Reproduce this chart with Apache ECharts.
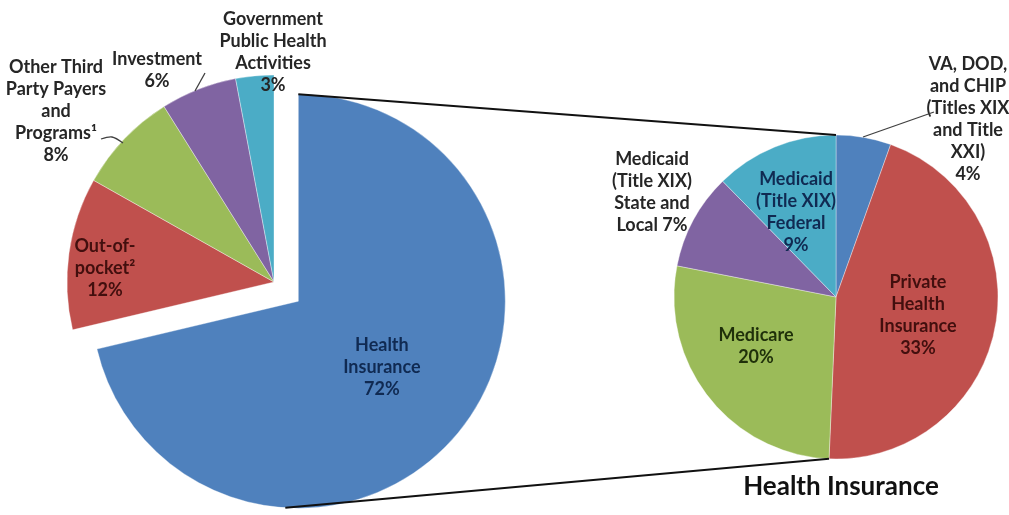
<!DOCTYPE html>
<html>
<head>
<meta charset="utf-8">
<script src="https://cdn.jsdelivr.net/npm/echarts@6/dist/echarts.min.js"></script>
<style>
  html, body { margin: 0; padding: 0; background: #fff; }
  #chart { width: 1009px; height: 515px; }
</style>
</head>
<body>
<div id="chart"></div>
<script>
// national health spending by source (left pie)
var spendNames = ['Health\nInsurance', 'Out-of-\npocket²', 'Other Third\nParty Payers\nand\nPrograms¹', 'Investment', 'Government\nPublic Health\nActivities'];
var spendShares = [72, 12, 8, 6, 3];

// breakdown of health insurance (right pie)
var insNames = ['VA, DOD,\nand CHIP\n(Titles XIX\nand Title\nXXI)', 'Private\nHealth\nInsurance', 'Medicare', 'Medicaid\n(Title XIX)\nState and\nLocal', 'Medicaid\n(Title XIX)\nFederal'];
var insShares = [4, 33, 20, 7, 9];

var sliceColors = ['#4F81BD', '#C0504D', '#9BBB59', '#8064A2', '#4BACC6'];
var leftText = ['#102a52', '#420f0e', '#262626', '#262626', '#262626'];
var rightText = ['#262626', '#420f0e', '#1f300a', '#262626', '#102a52'];

// layout
var FONT = 'Lato';
var leftC = [274, 282], leftR = 207, explode = 31;
var rightC = [836, 297], rightR = 162;
var leftLabelAt = [[390, 365], [105, 268], [56, 111], [157, 70], [273, 52]];
var rightLabelAt = [[968, 119], [918, 315], [756, 346], [652, 192], [796, 212]];
// leader lines, drawn by hand since the labels are placed by hand
var leaders = [
  [[101, 139], [112, 137], [123, 143]],
  [[195, 91], [205, 73]],
  [[863, 137], [934, 112]]
];

function sum(a) { return a.reduce(function (s, v) { return s + v; }, 0); }

// where the exploded slice ends up, for the connector lines
var mid = spendShares[0] / sum(spendShares) * Math.PI; // half of the slice angle
var hiC = [leftC[0] + explode * Math.sin(mid), leftC[1] - explode * Math.cos(mid)];
var cut = (insShares[0] + insShares[1]) / sum(insShares) * 2 * Math.PI;
var botA = Math.PI * 1.02;

function pieData(names, vals, colors, txt) {
  return names.map(function (n, i) {
    return {
      name: n, value: vals[i],
      itemStyle: { color: colors[i] },
      label: { color: txt[i] }
    };
  });
}

var leftData = pieData(spendNames, spendShares, sliceColors, leftText);
leftData[0].selected = true;
var rightData = pieData(insNames, insShares, sliceColors, rightText);
rightData[3].label.formatter = '{b} {c}%';

function layoutFor(at) {
  return function (p) {
    var a = at[p.dataIndex];
    return { x: a[0], y: a[1], align: 'center', verticalAlign: 'middle' };
  };
}

var labelBase = {
  show: true, position: 'inside', formatter: '{b}\n{c}%',
  fontFamily: FONT, fontWeight: 'bold', fontSize: 18, lineHeight: 22
};

var graphics = [
  {
    type: 'line', z: 10,
    shape: { x1: hiC[0], y1: hiC[1] - leftR, x2: rightC[0], y2: rightC[1] - rightR },
    style: { stroke: '#111', lineWidth: 2 }
  },
  {
    type: 'line', z: 10,
    shape: {
      x1: hiC[0] + leftR * Math.sin(botA), y1: hiC[1] - leftR * Math.cos(botA),
      x2: rightC[0] + rightR * Math.sin(cut), y2: rightC[1] - rightR * Math.cos(cut)
    },
    style: { stroke: '#111', lineWidth: 2 }
  }
];
leaders.forEach(function (pts) {
  graphics.push({
    type: 'polyline', z: 10,
    shape: { points: pts, smooth: 0.3 },
    style: { stroke: '#404040', lineWidth: 1.3, fill: null }
  });
});

var chart = echarts.init(document.getElementById('chart'));
chart.setOption({
  animation: false,
  title: {
    text: 'Health Insurance', left: rightC[0], top: 469, textAlign: 'center',
    textStyle: { fontFamily: FONT, fontSize: 26, fontWeight: 'bold', color: '#111' }
  },
  series: [
    {
      type: 'pie',
      center: leftC, radius: leftR,
      startAngle: 90, clockwise: true,
      selectedMode: 'single', selectedOffset: explode,
      avoidLabelOverlap: false,
      itemStyle: { borderColor: 'rgba(255,255,255,0.6)', borderWidth: 0.6 },
      label: labelBase,
      labelLine: { show: false },
      labelLayout: layoutFor(leftLabelAt),
      emphasis: { disabled: true },
      select: { itemStyle: { opacity: 1 } },
      data: leftData
    },
    {
      type: 'pie',
      center: rightC, radius: rightR,
      startAngle: 90, clockwise: true,
      avoidLabelOverlap: false,
      itemStyle: { borderColor: 'rgba(255,255,255,0.6)', borderWidth: 0.6 },
      label: labelBase,
      labelLine: { show: false },
      labelLayout: layoutFor(rightLabelAt),
      emphasis: { disabled: true },
      data: rightData
    }
  ],
  graphic: graphics
});
</script>
</body>
</html>
